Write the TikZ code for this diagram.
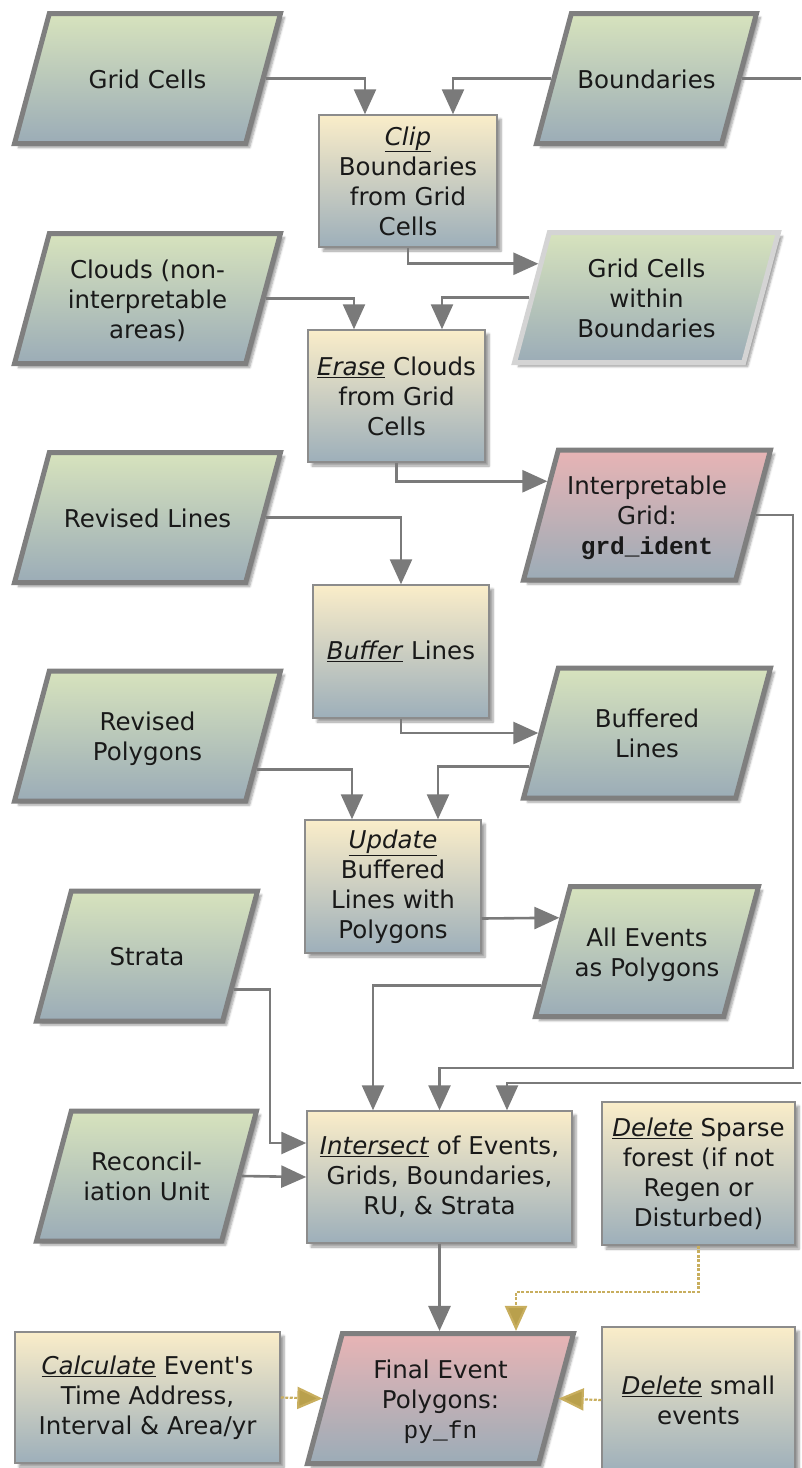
\documentclass[tikz,border=0pt]{standalone}
\usepackage{fontspec}
\setmainfont{DejaVu Sans}
\setmonofont{Liberation Mono}
\usetikzlibrary{calc,shapes.geometric,arrows.meta,shadows.blur}

\definecolor{datatop}{HTML}{D7E3BD}
\definecolor{databot}{HTML}{9BACB7}
\definecolor{proctop}{HTML}{FAEDC9}
\definecolor{procbot}{HTML}{9DAFBA}
\definecolor{outtop}{HTML}{E8B4B5}
\definecolor{edgegray}{HTML}{7F7F7F}
\definecolor{linegray}{HTML}{7A7A7A}
\definecolor{goldline}{HTML}{C8AE5E}
\definecolor{goldtip}{HTML}{B9A04C}

% text of a data box, always 90pt high so the slant stays the same
\newcommand{\ptxt}[1]{\vbox to 90pt{\vss\hbox{\begin{tabular}{@{}c@{}}#1\end{tabular}}\vss\kern-7pt}}

\tikzset{
  base/.style={font=\fontsize{24.5}{30}\selectfont, text=black!90, inner xsep=2pt,
    blur shadow={shadow xshift=4pt, shadow yshift=-4pt, shadow blur steps=6, shadow opacity=38}},
  data/.style={base, trapezium, trapezium left angle=75, trapezium right angle=105,
    trapezium stretches body, inner ysep=20pt, draw=edgegray, line width=5pt,
    top color=datatop, bottom color=databot},
  result/.style={data, top color=outtop},
  proc/.style={base, rectangle, align=center, inner ysep=2pt, draw=black!45, line width=1.5pt,
    top color=proctop, bottom color=procbot},
  flow/.style={draw=linegray, line width=2.6pt, -{Triangle[length=25pt,width=22pt]}},
  side/.style={draw=goldline, line width=2.2pt, dash pattern=on 3pt off 1.5pt,
    -{Triangle[length=25pt,width=22pt,fill=goldtip]}}
}

\begin{document}
\begin{tikzpicture}[x=1pt,y=-1pt]
		%%%%% START %%%%%
		\useasboundingbox (0,0) rectangle (801,1468);
		
		\node[data, minimum width=266pt] (gridcells) at (147.5,78.5) {\ptxt{Grid Cells}};
		\node[data, minimum width=220pt] (bound) at (646.5,78.5) {\ptxt{Boundaries}};
		\node[proc, minimum width=178pt, minimum height=132pt] (clip) at (408,181) {\underline{\textit{Clip}}\\Boundaries\\from Grid\\Cells};
		
		\node[data, minimum width=266pt] (clouds) at (147.5,298.5) {\ptxt{Clouds (non-\\interpretable\\areas)}};
		\node[data, draw=black!17, minimum width=264pt] (within) at (646.5,297.5) {\ptxt{Grid Cells\\within\\Boundaries}};
		\node[proc, minimum width=177pt, minimum height=132pt] (erase) at (396.5,396) {\underline{\textit{Erase}} Clouds\\from Grid\\Cells};
		
		\node[result, minimum width=247pt] (interp) at (647,515) {\ptxt{Interpretable\\Grid:\\\textbf{\texttt{grd\_ident}}}};
		\node[data, minimum width=266pt] (revlines) at (147.5,517.5) {\ptxt{Revised Lines}};
		\node[proc, minimum width=176pt, minimum height=133pt] (buffer) at (401,651.5) {\underline{\textit{Buffer}} Lines};
		
		\node[data, minimum width=266pt] (revpoly) at (147.5,736) {\ptxt{Revised\\Polygons}};
		\node[data, minimum width=247pt] (buffered) at (647,733) {\ptxt{Buffered\\Lines}};
		\node[proc, minimum width=176pt, minimum height=133pt] (update) at (393,886.5) {\underline{\textit{Update}}\\Buffered\\Lines with\\Polygons};
		
		\node[data, minimum width=223pt] (allev) at (647,951.5) {\ptxt{All Events\\as Polygons}};
		\node[data, minimum width=221pt] (strata) at (147,956) {\ptxt{Strata}};
		\node[data, minimum width=220pt] (recon) at (146.5,1176) {\ptxt{Reconcil-\\iation Unit}};
		\node[proc, minimum width=265pt, minimum height=132pt] (isect) at (439.5,1177) {\underline{\textit{Intersect}} of Events,\\Grids, Boundaries,\\RU, \& Strata};
		\node[proc, minimum width=193pt, minimum height=143pt] (sparse) at (698.5,1173.5) {\underline{\textit{Delete}} Sparse\\forest (if not\\Regen or\\Disturbed)};
		
		\node[result, minimum width=266pt] (final) at (440.5,1398.5) {\ptxt{Final Event\\Polygons:\\\texttt{py\_fn}}};
		\node[proc, minimum width=265pt, minimum height=131pt] (calc) at (147.5,1397.5) {\underline{\textit{Calculate}} Event\textquotesingle s\\Time Address,\\Interval \& Area/yr};
		\node[proc, minimum width=193pt, minimum height=146pt] (small) at (698.5,1400) {\underline{\textit{Delete}} small\\events};
		
		\coordinate (edgeout) at (801,0);
		\coordinate (edgein) at (801,1083);
		\coordinate (railknee) at (793,1068);
		\coordinate (strataknee) at (270,1143);
		
		\draw[flow] (gridcells.east) -| ([xshift=-43pt]clip.north);
		\draw[flow] (bound.west) -| ([xshift=45pt]clip.north);
		\draw[flow,-] (bound.east) -- (bound.east -| edgeout);
		\draw[flow] (clip.south) |- ($(within.top left corner)!0.25!(within.bottom left corner)$);
		
		\draw[flow] (clouds.east) -| ([xshift=-42.5pt]erase.north);
		\draw[flow] (within.west) -| ([xshift=45.5pt]erase.north);
		\draw[flow] (erase.south) |- ($(interp.top left corner)!0.25!(interp.bottom left corner)$);
		\draw[flow] (interp.east) -| (railknee) -| (isect.north);
		
		\draw[flow] (revlines.east) -| (buffer.north);
		\draw[flow] (buffer.south) |- (buffered.west);
		\draw[flow] ($(revpoly.top right corner)!0.75!(revpoly.bottom right corner)$) -| ([xshift=-41pt]update.north);
		\draw[flow] ($(buffered.top left corner)!0.75!(buffered.bottom left corner)$) -| ([xshift=45pt]update.north);
		\draw[flow] ([yshift=-32pt]update.east) -- ($(allev.top left corner)!0.25!(allev.bottom left corner)$);
		
		\draw[flow] ($(allev.top left corner)!0.75!(allev.bottom left corner)$) -| ([xshift=-66.5pt]isect.north);
		\draw[flow] (edgein) -| ([xshift=67.5pt]isect.north);
		\draw[flow] ($(strata.top right corner)!0.75!(strata.bottom right corner)$) -| (strataknee) -- ([yshift=34pt]isect.west);
		\draw[flow] (recon.east) -- (isect.west);
		\draw[flow] (isect.south) -- (isect.south |- final.north);
		
		\draw[side] (sparse.south) -- ++(0,46) -| ([xshift=75.5pt]final.north);
		\draw[side] (calc.east) -- (final.west);
		\draw[side] (small.west) -- (final.east);
		
		%%%%% END %%%%%
\end{tikzpicture}
\end{document}
